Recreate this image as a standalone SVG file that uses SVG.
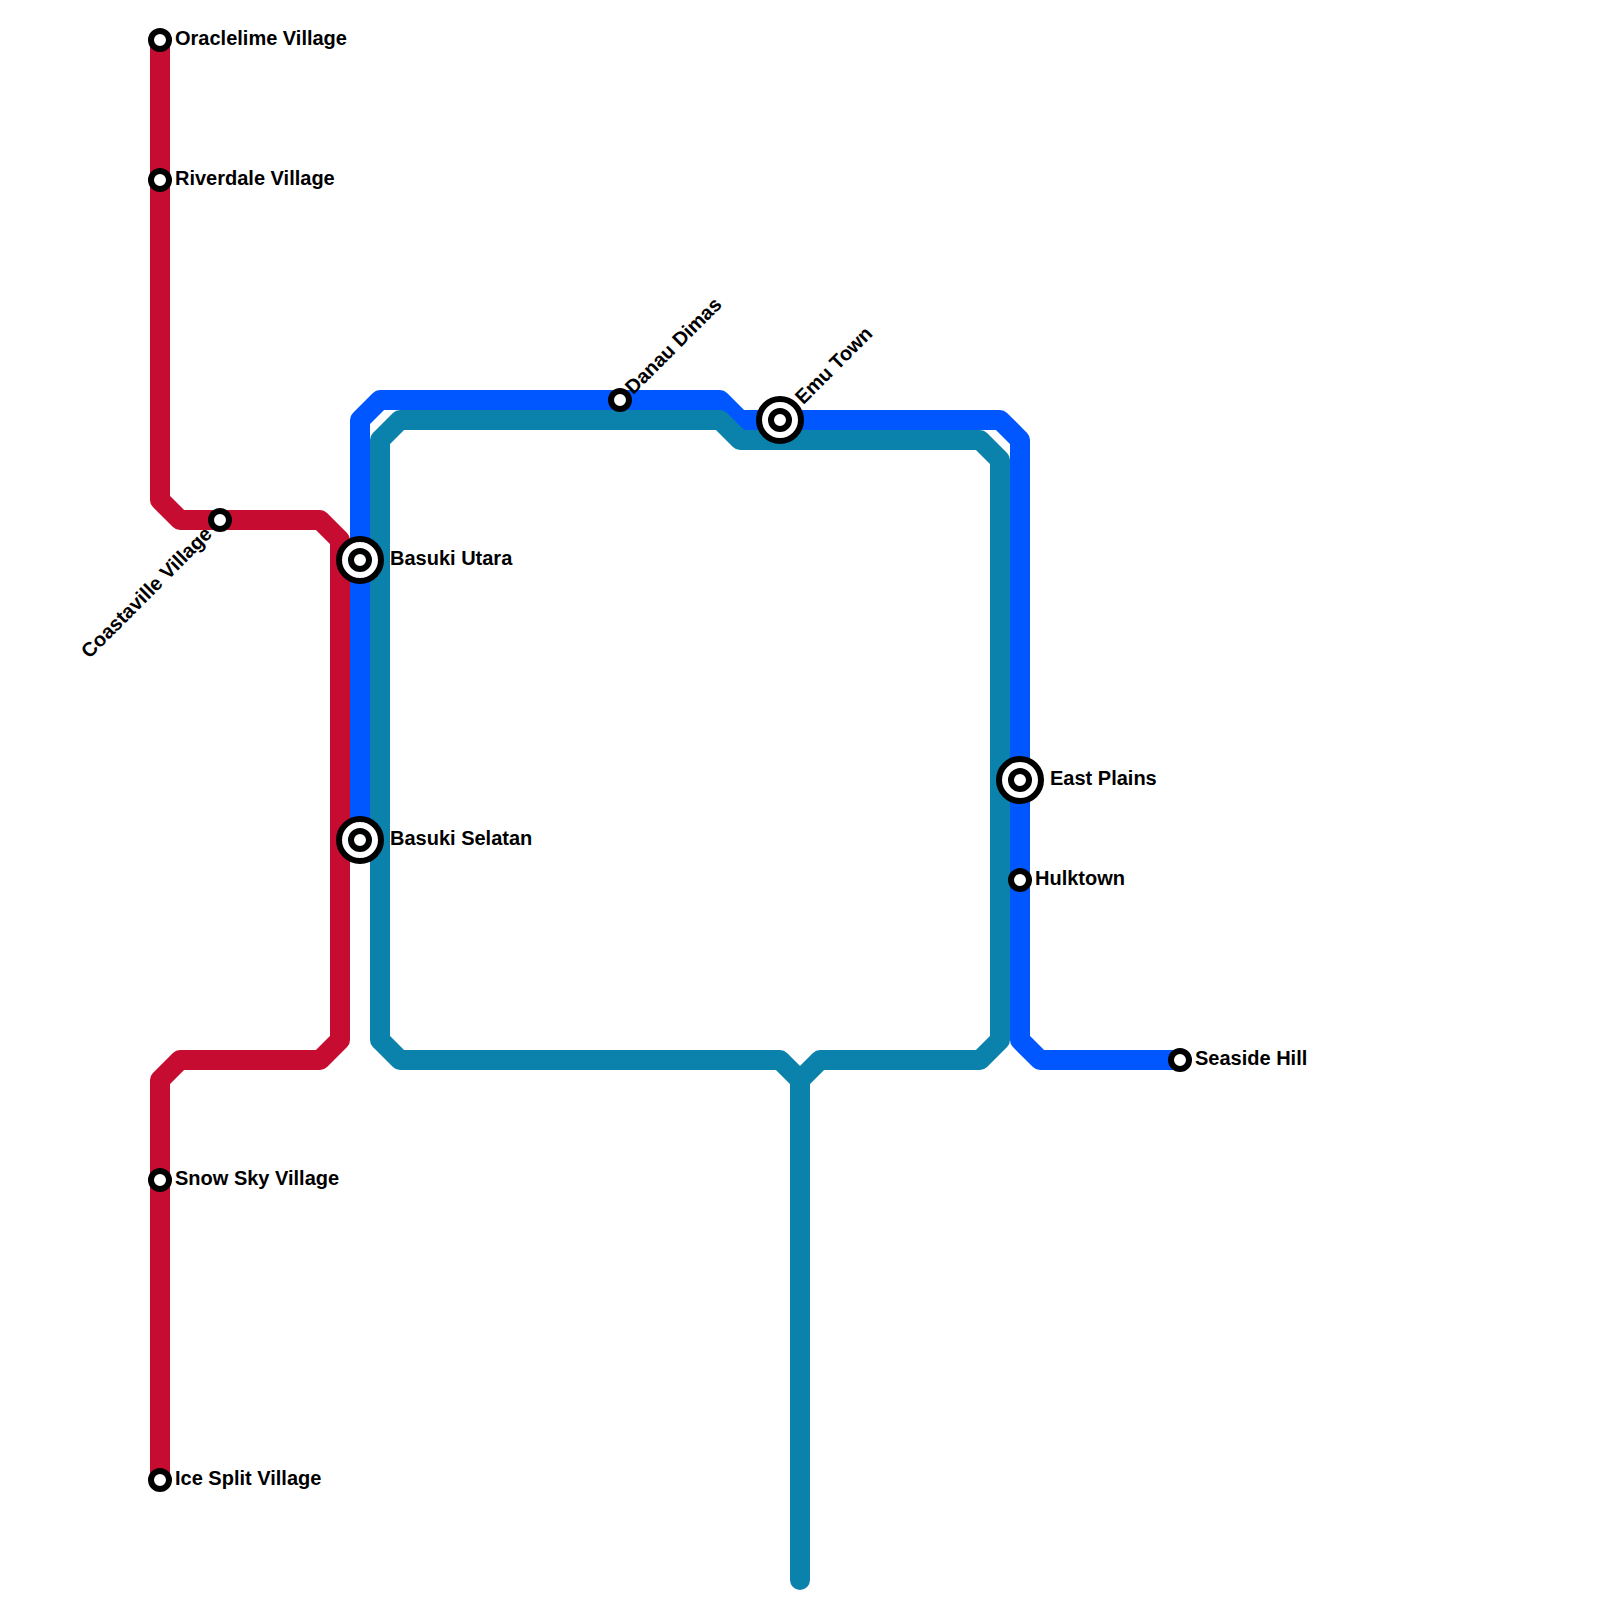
<svg xmlns="http://www.w3.org/2000/svg" width="1600" height="1600" viewBox="0 0 1600 1600">
<style>
.line{fill:none;stroke-width:20;stroke-linejoin:round;stroke-linecap:round}
.ring{fill:#fff;stroke:#000;stroke-width:6}
text{font-family:"Liberation Sans",Arial,sans-serif;font-weight:700;font-size:20px;fill:#000}
</style>
<rect width="1600" height="1600" fill="#fff"/>
<g id="connectors">
<path class="line" stroke="#c60c30" d="M160 40V500L180 520H320L340 540V1040L320 1060H180L160 1080V1480"/>
<path class="line" stroke="#0057ff" d="M360 840V420L380 400H720L740 420H1000L1020 440V1040L1040 1060H1180"/>
<path class="line" stroke="#0b82ac" d="M800 1580V1080L820 1060H980L1000 1040V460L980 440H740L720 420H400L380 440V1040L400 1060H780L800 1080"/>
</g>
<g id="oraclelime-village"><circle class="ring" cx="160" cy="40" r="9"/><text x="175" y="45">Oraclelime Village</text></g>
<g id="riverdale-village"><circle class="ring" cx="160" cy="180" r="9"/><text x="175" y="185">Riverdale Village</text></g>
<g id="coastaville-village"><circle class="ring" cx="220" cy="520" r="9"/><text transform="translate(209 531) rotate(-45)" text-anchor="end" y="6">Coastaville Village</text></g>
<g id="snow-sky-village"><circle class="ring" cx="160" cy="1180" r="9"/><text x="175" y="1185">Snow Sky Village</text></g>
<g id="ice-split-village"><circle class="ring" cx="160" cy="1480" r="9"/><text x="175" y="1485">Ice Split Village</text></g>
<g id="basuki-utara"><circle class="ring" cx="360" cy="560" r="21"/><circle class="ring" cx="360" cy="560" r="9"/><text x="390" y="565">Basuki Utara</text></g>
<g id="basuki-selatan"><circle class="ring" cx="360" cy="840" r="21"/><circle class="ring" cx="360" cy="840" r="9"/><text x="390" y="845">Basuki Selatan</text></g>
<g id="danau-dimas"><circle class="ring" cx="620" cy="400" r="9"/><text transform="translate(629 391) rotate(-45)" y="6">Danau Dimas</text></g>
<g id="emu-town"><circle class="ring" cx="780" cy="420" r="21"/><circle class="ring" cx="780" cy="420" r="9"/><text transform="translate(799 401) rotate(-45)" y="6">Emu Town</text></g>
<g id="east-plains"><circle class="ring" cx="1020" cy="780" r="21"/><circle class="ring" cx="1020" cy="780" r="9"/><text x="1050" y="785">East Plains</text></g>
<g id="hulktown"><circle class="ring" cx="1020" cy="880" r="9"/><text x="1035" y="885">Hulktown</text></g>
<g id="seaside-hill"><circle class="ring" cx="1180" cy="1060" r="9"/><text x="1195" y="1065">Seaside Hill</text></g>
</svg>
